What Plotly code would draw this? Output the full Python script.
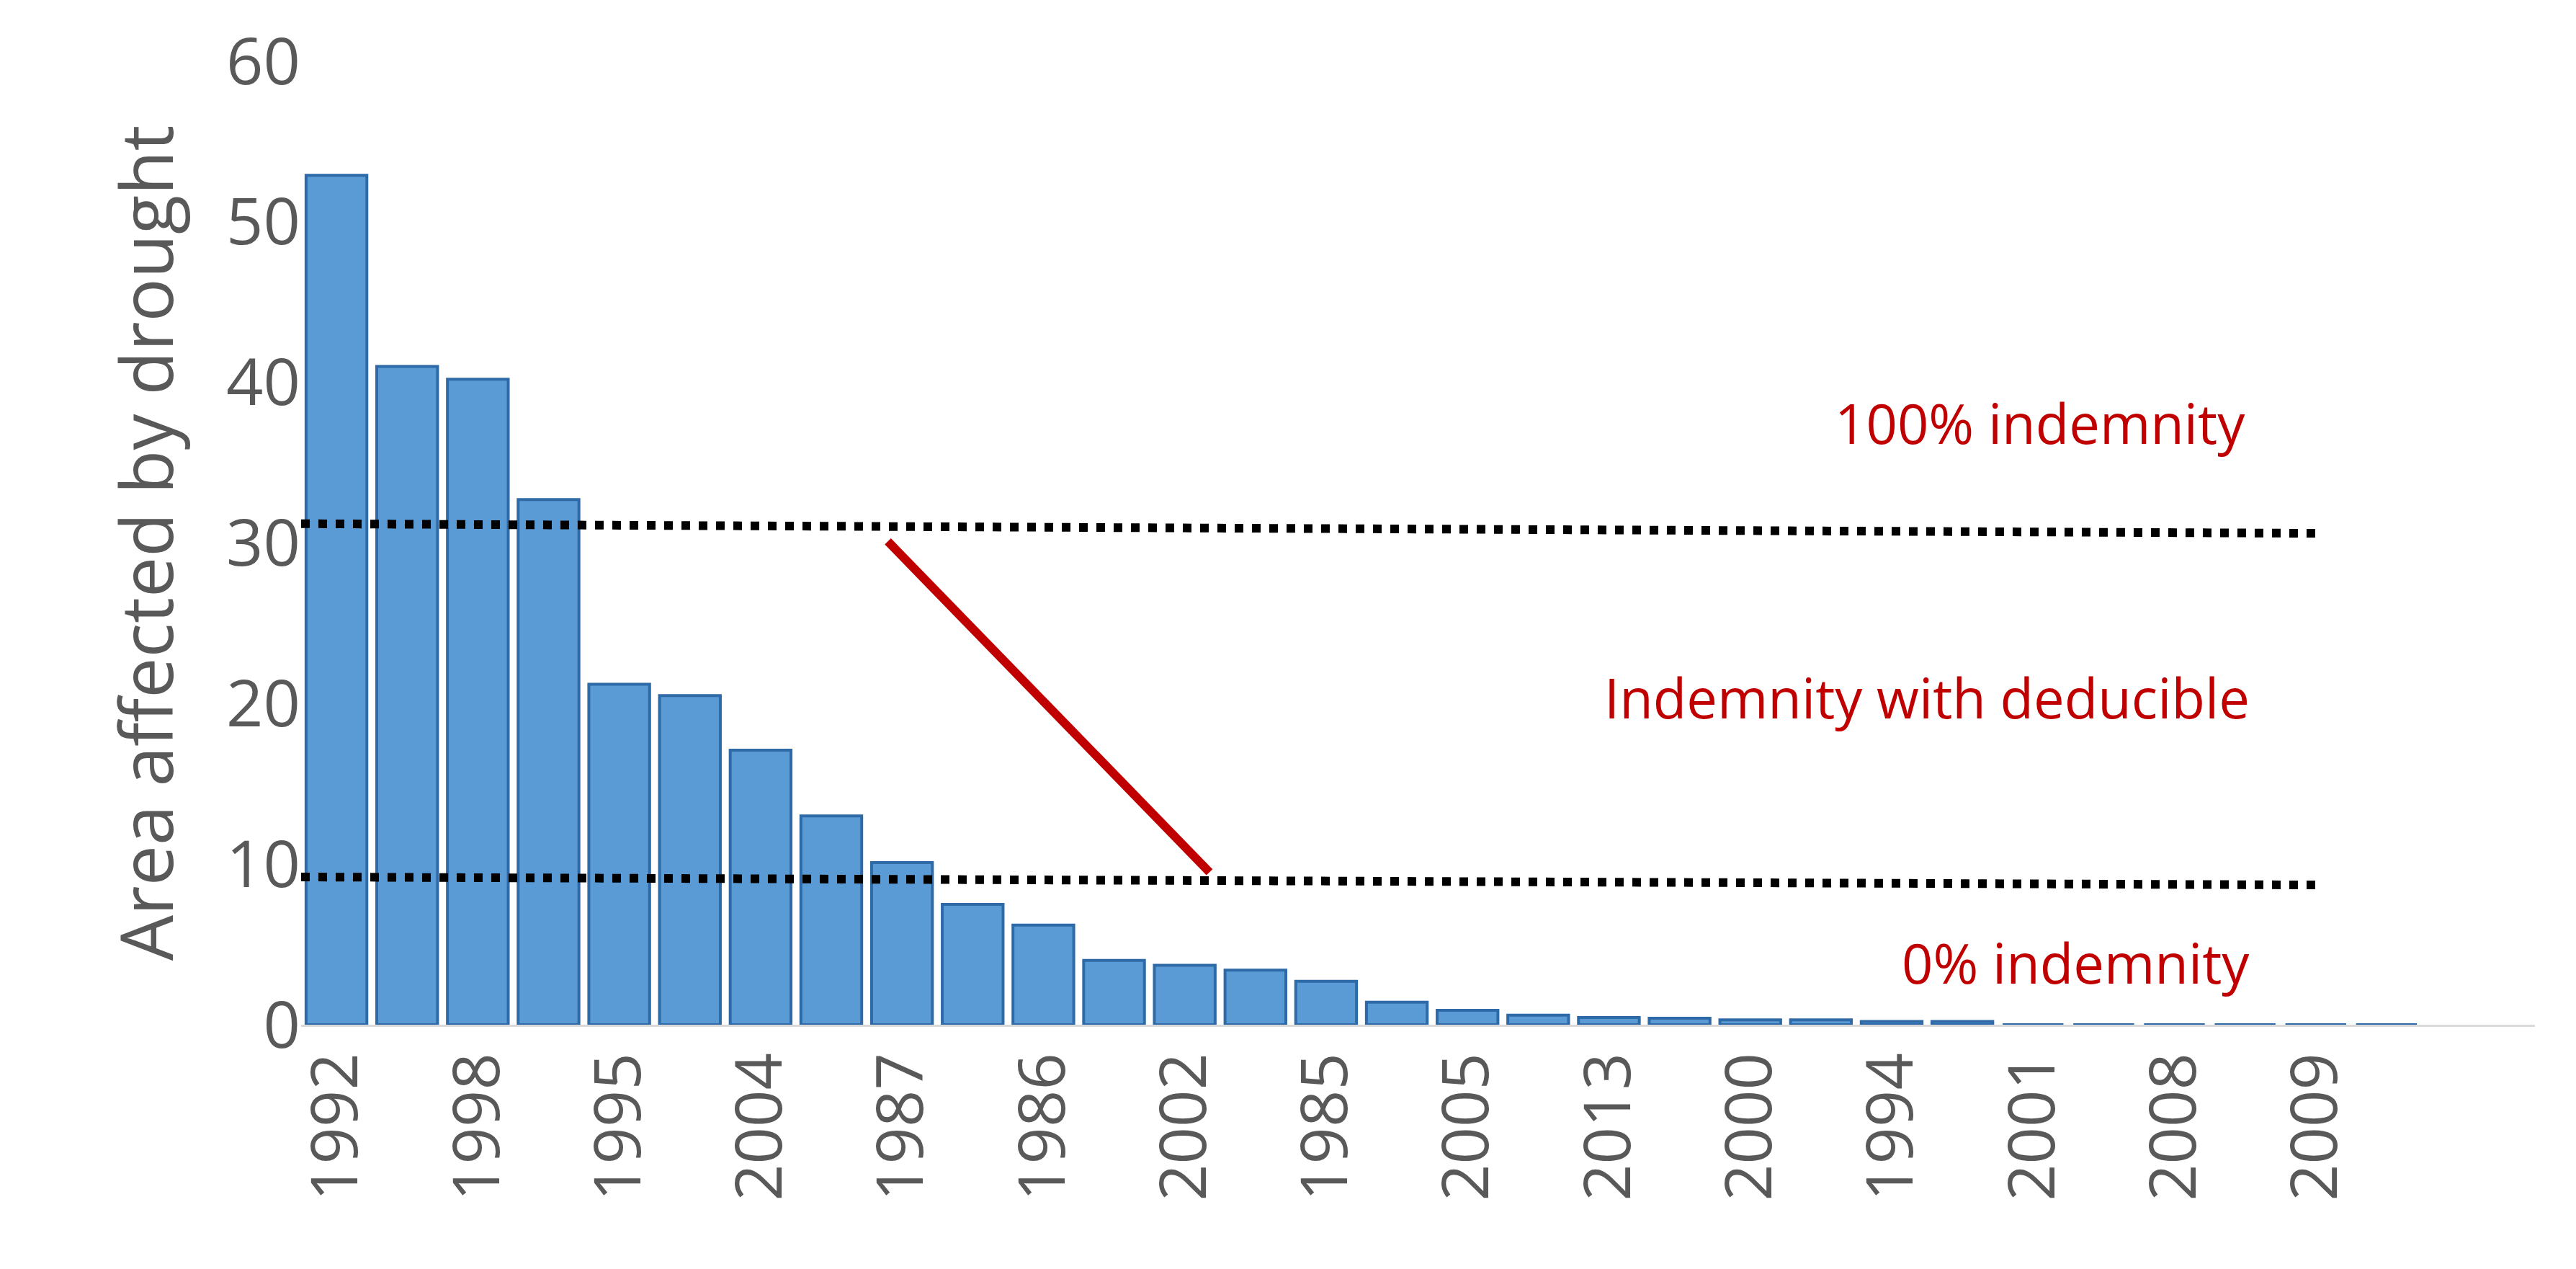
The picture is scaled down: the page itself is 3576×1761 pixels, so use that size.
import plotly.graph_objects as go

years = ["1992", "1991", "1998", "1990", "1995", "1989", "2004", "2003", "1987", "1993",
         "1986", "1996", "2002", "1997", "1985", "1999", "2005", "2006", "2013", "2007",
         "2000", "2010", "1994", "2011", "2001", "2012", "2008", "2014", "2009", "1988"]
area = [52.9, 41.0, 40.2, 32.7, 21.2, 20.5, 17.1, 13.0, 10.1, 7.5,
        6.2, 4.0, 3.7, 3.4, 2.7, 1.4, 0.9, 0.6, 0.45, 0.4,
        0.3, 0.3, 0.2, 0.2, 0, 0, 0, 0, 0, 0]
shown_labels = years[::2]

upper_x = [-0.5, 28.1]
upper_y = [31.2, 30.6]
lower_x = [-0.5, 28.1]
lower_y = [9.2, 8.7]
red_x = [7.8, 12.35]
red_y = [30.1, 9.5]

idx = list(range(len(years)))

fig = go.Figure()
fig.add_trace(go.Bar(x=idx, y=area, width=0.86,
                     marker=dict(color="#5b9bd5", line=dict(color="#2e6aa8", width=4))))
fig.add_trace(go.Scatter(x=upper_x, y=upper_y, mode="lines",
                         line=dict(color="black", width=12, dash="dot")))
fig.add_trace(go.Scatter(x=lower_x, y=lower_y, mode="lines",
                         line=dict(color="black", width=12, dash="dot")))
fig.add_trace(go.Scatter(x=red_x, y=red_y, mode="lines",
                         line=dict(color="#c00000", width=12)))

red_font = dict(family="Open Sans, Calibri, sans-serif", size=76, color="#c00000")
fig.add_annotation(x=24.1, y=37.5, text="100% indemnity", showarrow=False, font=red_font)
fig.add_annotation(x=22.5, y=20.4, text="Indemnity with deducible", showarrow=False, font=red_font)
fig.add_annotation(x=24.6, y=3.9, text="0% indemnity", showarrow=False, font=red_font)

fig.update_layout(
    width=3576, height=1761, showlegend=False,
    plot_bgcolor="white", paper_bgcolor="white",
    margin=dict(l=410, r=65, t=68, b=347),
    font=dict(family="Open Sans, Calibri, sans-serif", color="#595959"),
    xaxis=dict(range=[-0.5, 31.1], tickmode="array", tickvals=idx[::2],
               ticktext=shown_labels, tickangle=-90, tickfont=dict(size=90),
               showline=True, linecolor="#d9d9d9", linewidth=3, showgrid=False,
               zeroline=False),
    yaxis=dict(range=[0, 60], dtick=10, tickfont=dict(size=90), showgrid=False,
               zeroline=False, ticks="", ticklen=20, tickcolor="white",
               title=dict(text="Area affected by drought", font=dict(size=100), standoff=40)),
)

fig.write_html("out.html")
